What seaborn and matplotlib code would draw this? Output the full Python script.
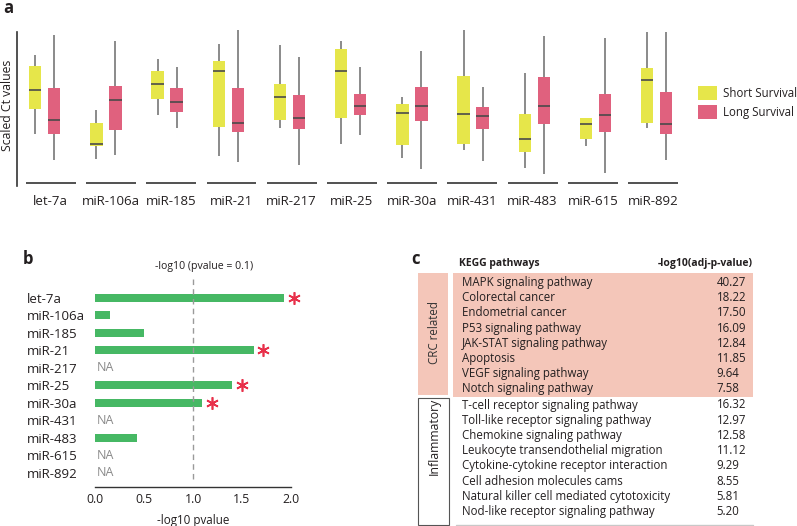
import numpy as np
import pandas as pd
import matplotlib
matplotlib.use("Agg")
import matplotlib.pyplot as plt
import seaborn as sns
from matplotlib.patches import Rectangle

# ---------------- data ----------------
mirnas = ["let-7a", "miR-106a", "miR-185", "miR-21", "miR-217", "miR-25",
          "miR-30a", "miR-431", "miR-483", "miR-615", "miR-892"]
groups = ["Short Survival", "Long Survival"]

# five-number summaries per miRNA: [min, Q1, median, Q3, max] (scaled Ct)
short_surv = [
    [1.03, 1.53, 1.90, 2.38, 2.60],
    [0.53, 0.78, 0.83, 1.24, 1.50],
    [1.40, 1.73, 2.03, 2.28, 2.53],
    [0.59, 1.16, 2.29, 2.48, 2.82],
    [1.15, 1.31, 1.77, 2.02, 2.81],
    [0.82, 1.35, 2.28, 2.72, 2.88],
    [0.55, 0.80, 1.45, 1.62, 1.77],
    [0.71, 0.83, 1.43, 2.19, 3.10],
    [0.35, 0.67, 0.92, 1.43, 2.25],
    [0.79, 0.93, 1.23, 1.35, 1.35],
    [1.15, 1.25, 2.11, 2.35, 3.07],
]
long_surv = [
    [0.51, 1.02, 1.30, 1.95, 3.00],
    [0.60, 1.10, 1.71, 1.99, 2.88],
    [1.15, 1.47, 1.66, 1.94, 2.37],
    [0.47, 1.07, 1.25, 1.95, 3.11],
    [0.40, 1.13, 1.34, 1.80, 2.56],
    [1.00, 1.40, 1.59, 1.82, 2.37],
    [0.32, 1.29, 1.59, 1.97, 2.68],
    [0.49, 1.12, 1.39, 1.57, 1.97],
    [0.23, 1.22, 1.59, 2.16, 2.98],
    [0.25, 1.07, 1.41, 1.82, 2.95],
    [0.51, 1.03, 1.23, 1.87, 3.07],
]

# panel b: -log10 pvalue (NaN = NA)
neglog_p = [1.93, 0.15, 0.495, 1.62, np.nan, 1.40, 1.09, np.nan, 0.43, np.nan, np.nan]
significant = ["let-7a", "miR-21", "miR-25", "miR-30a"]
threshold = 1.0
threshold_label = "-log10 (pvalue = 0.1)"

# panel c: KEGG pathways
crc_pathways = ["MAPK signaling pathway", "Colorectal cancer", "Endometrial cancer",
                "P53 signaling pathway", "JAK-STAT signaling pathway", "Apoptosis",
                "VEGF signaling pathway", "Notch signaling pathway"]
crc_values = [40.27, 18.22, 17.50, 16.09, 12.84, 11.85, 9.64, 7.58]
inf_pathways = ["T-cell receptor signaling pathway", "Toll-like receptor signaling pathway",
                "Chemokine signaling pathway", "Leukocyte transendothelial migration",
                "Cytokine-cytokine receptor interaction", "Cell adhesion molecules cams",
                "Natural killer cell mediated cytotoxicity", "Nod-like receptor signaling pathway"]
inf_values = [16.32, 12.97, 12.58, 11.12, 9.29, 8.55, 5.81, 5.20]

# ---------------- style ----------------
sns.set_theme(style="white")
plt.rcParams["font.family"] = ["Open Sans", "DejaVu Sans"]
TXT = "#231f20"
plt.rcParams["text.color"] = TXT
plt.rcParams["axes.labelcolor"] = TXT
plt.rcParams["xtick.color"] = TXT
plt.rcParams["ytick.color"] = TXT

YELLOW = "#e6e64a"
PINK = "#e0617e"
GREEN = "#46b864"
RED = "#e8304a"
TABLE_PINK = "#f4c6b9"

W, H = 797, 526
fig = plt.figure(figsize=(W / 100, H / 100), dpi=100)


def px(l, t, r, b):
    return [l / W, 1 - b / H, (r - l) / W, (b - t) / H]


# ---------------- panel a ----------------
rows = []
for name, s, l in zip(mirnas, short_surv, long_surv):
    for v in s:
        rows.append((name, groups[0], v))
    for v in l:
        rows.append((name, groups[1], v))
df_a = pd.DataFrame(rows, columns=["miRNA", "group", "value"])

ax_a = fig.add_axes(px(17, 25, 687, 185))
sns.boxplot(data=df_a, x="miRNA", y="value", hue="group", order=mirnas,
            hue_order=groups, palette=[YELLOW, PINK], saturation=1,
            width=0.62, gap=0.34, whis=(0, 100), showcaps=False, fliersize=0,
            linecolor="#777777", linewidth=1.1,
            boxprops=dict(edgecolor="none"),
            medianprops=dict(color="#4a4a4a", linewidth=1.2),
            whiskerprops=dict(color="#777777", linewidth=1.2),
            ax=ax_a)
n = len(mirnas)
ax_a.set_xlim(-0.453, 10.495)
ax_a.set_ylim(0, 3.2)
ax_a.set_yticks([])
label_pos = np.arange(n) * 0.984 + 0.1
ax_a.set_xticks(label_pos, mirnas)
ax_a.tick_params(axis="x", length=0, pad=7, labelsize=9.5)
ax_a.set_xlabel("")
ax_a.set_ylabel("Scaled Ct values", fontsize=8.8, labelpad=2.5)
for s in ["top", "right", "bottom"]:
    ax_a.spines[s].set_visible(False)
ax_a.spines["left"].set_bounds(-0.02, 3.06)
ax_a.spines["left"].set_color("#333333")
ax_a.spines["left"].set_linewidth(1.2)
ax_a.hlines([0.011] * n, label_pos - 0.408, label_pos + 0.408,
            transform=ax_a.get_xaxis_transform(), color="#333333", lw=1.2, clip_on=False)

sns.move_legend(ax_a, "upper left", bbox_to_anchor=(698 / W, 1 - 85.7 / H),
                bbox_transform=fig.transFigure, frameon=False, title=None,
                handlelength=1.65, handleheight=1.56, handletextpad=0.5,
                labelspacing=0.4, borderpad=0, borderaxespad=0, fontsize=8.3)
for h in ax_a.get_legend().legend_handles:
    h.set_edgecolor("none")

# ---------------- panel b ----------------
df_b = pd.DataFrame({"miRNA": mirnas, "neglog_p": neglog_p}).dropna()
ax_b = fig.add_axes(px(95.3, 271.45, 290.7, 487.3))
sns.barplot(data=df_b, x="neglog_p", y="miRNA", order=mirnas, orient="h",
            color=GREEN, saturation=1, width=0.48, errorbar=None, linewidth=0, ax=ax_b)
ax_b.set_xlim(0, 2)
ax_b.set_ylim(10.83, -1.5)
ax_b.set_yticks(range(n), mirnas)
ax_b.tick_params(axis="y", length=0, pad=49.2, labelsize=9.5)
for lbl in ax_b.get_yticklabels():
    lbl.set_horizontalalignment("left")
ax_b.set_ylabel("")
ax_b.set_xticks([0, 0.5, 1.0, 1.5, 2.0], ["0.0", "0.5", "1.0", "1.5", "2.0"])
ax_b.tick_params(axis="x", length=2.5, width=0.9, pad=1.5, labelsize=8.8)
ax_b.set_xlabel("-log10 pvalue", fontsize=8.4, labelpad=6)
for s in ["top", "right", "left"]:
    ax_b.spines[s].set_visible(False)
ax_b.spines["bottom"].set_bounds(0, 2)
ax_b.spines["bottom"].set_color("#333333")
ax_b.spines["bottom"].set_linewidth(1.0)

for i, v in enumerate(neglog_p):
    if np.isnan(v):
        ax_b.text(0.01, i, "NA", color="#8a8a8a", va="center", ha="left", fontsize=9)
for m in significant:
    i = mirnas.index(m)
    ax_b.plot(neglog_p[i] + 0.1, i, marker=(6, 2, 0), ms=9, mew=1.2,
              color=RED, clip_on=False)
ax_b.plot([threshold, threshold], [-1.07, 10.4], ls=(0, (4, 3)), color="#9a9a9a", lw=1)
ax_b.text(threshold + 0.11, -1.77, threshold_label, ha="center", va="center", fontsize=7.6)

# ---------------- panel c ----------------
ax_c = fig.add_axes(px(405, 250, 797, 526))
ax_c.set_xlim(405, 797)
ax_c.set_ylim(526, 250)
ax_c.axis("off")

row_h = 15.24
y_crc0 = 282.3
y_inf0 = 405.0
ax_c.add_patch(Rectangle((452.7, 272.7), 300.6, 124.6, facecolor=TABLE_PINK, edgecolor="none"))
ax_c.add_patch(Rectangle((418.3, 272.7), 30.0, 122.0, facecolor=TABLE_PINK, edgecolor="none"))
ax_c.add_patch(Rectangle((418.3, 398.3), 31.0, 126.7, facecolor="white", edgecolor="#555555", lw=0.8))
ax_c.plot([456, 753], [525, 525], color="#c8c8c8", lw=1)

ax_c.text(459, 263.3, "KEGG pathways", fontsize=7.5, fontweight="bold", va="center", ha="left")
ax_c.text(752.3, 263.3, "-log10(adj-p-value)", fontsize=7.5, fontweight="bold", va="center",
          ha="right")
for i, (p, v) in enumerate(zip(crc_pathways, crc_values)):
    y = y_crc0 + i * row_h
    ax_c.text(461.7, y, p, fontsize=8.3, va="center", ha="left")
    ax_c.text(716.7, y, f"{v:.2f}", fontsize=8.3, va="center", ha="left")
for i, (p, v) in enumerate(zip(inf_pathways, inf_values)):
    y = y_inf0 + i * row_h
    ax_c.text(461.7, y, p, fontsize=8.3, va="center", ha="left")
    ax_c.text(716.7, y, f"{v:.2f}", fontsize=8.3, va="center", ha="left")
ax_c.text(434, 333, "CRC related", rotation=90, fontsize=8.3, va="center", ha="center", color="#333333")
ax_c.text(434, 436, "Inflammatory", rotation=90, fontsize=8.8, va="center", ha="center")

# panel letters
fig.text(3 / W, 1 - 8 / H, "a", fontsize=12, fontweight="bold", va="center", ha="left")
fig.text(23 / W, 1 - 259 / H, "b", fontsize=12, fontweight="bold", va="center", ha="left")
fig.text(411 / W, 1 - 259 / H, "c", fontsize=12, fontweight="bold", va="center", ha="left")

fig.savefig("out.png", dpi=100)
